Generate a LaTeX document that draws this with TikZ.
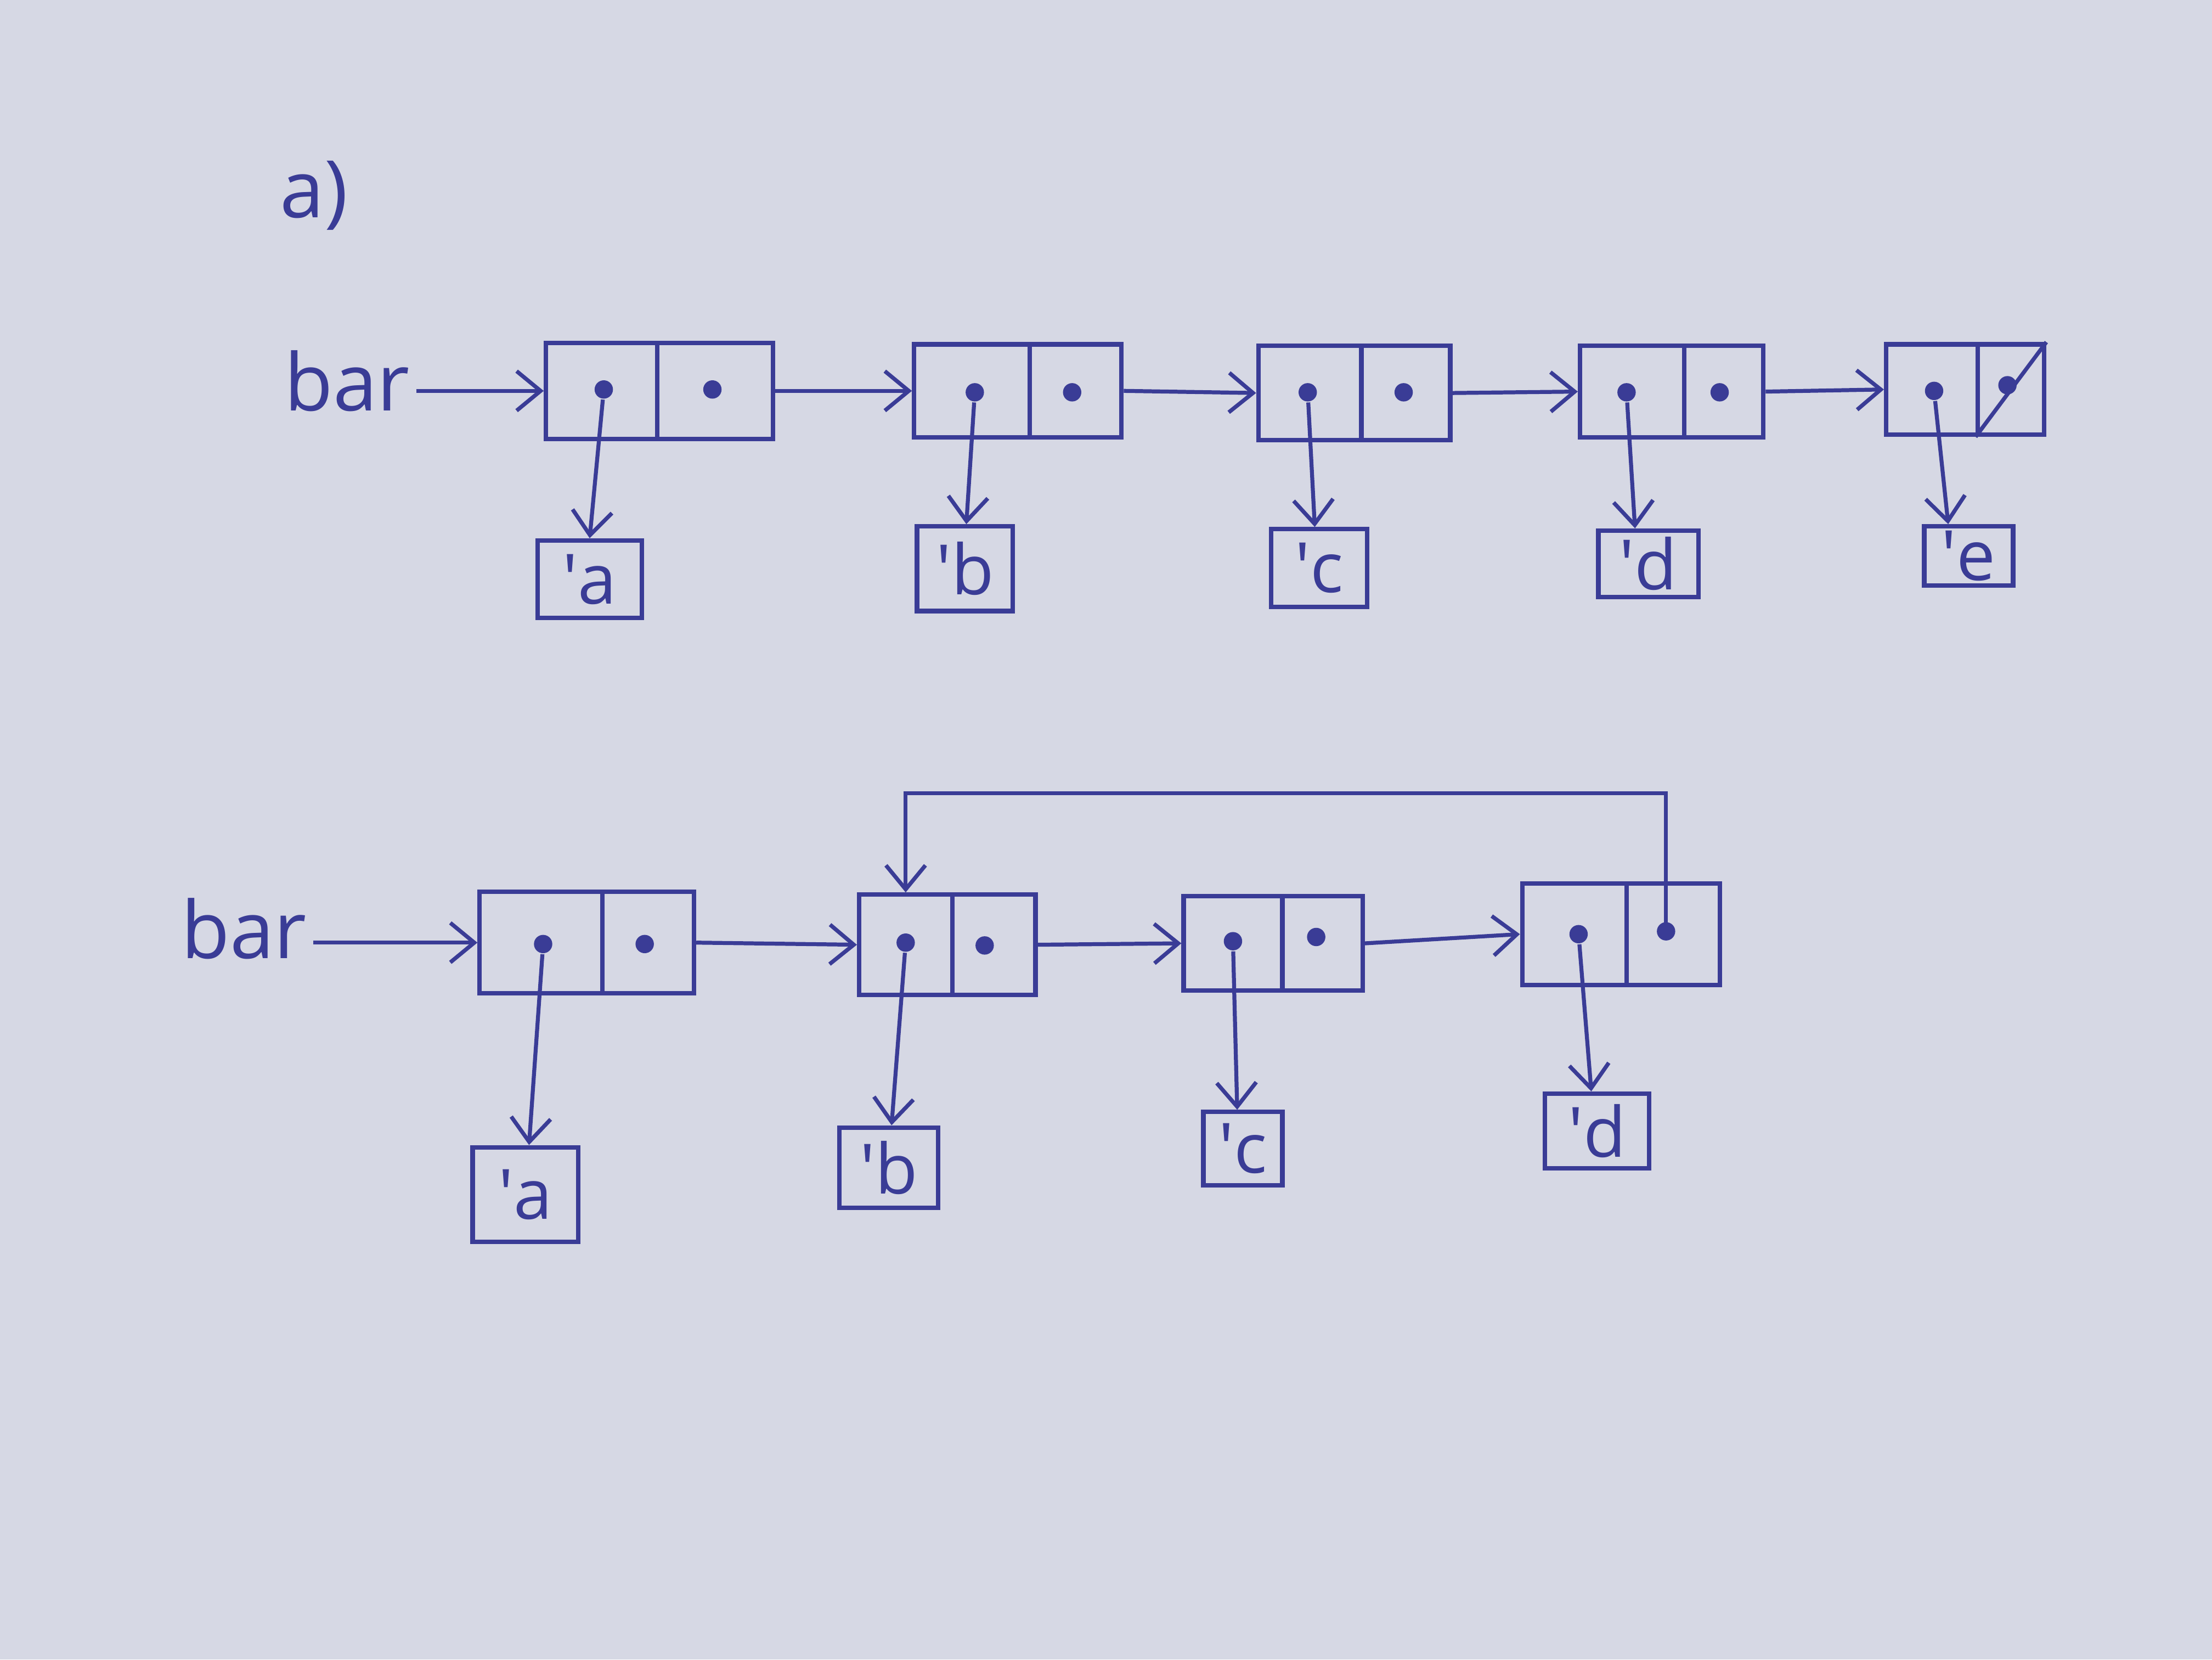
\documentclass[tikz,border=0pt]{standalone}
\usepackage{fontspec}
\setmainfont{Open Sans}
\usetikzlibrary{arrows.meta,calc}
\definecolor{ink}{RGB}{58,60,150}
\definecolor{paper}{RGB}{214,216,228}
\begin{document}
\begin{tikzpicture}[x=0.1mm,y=-0.1mm,
  half/.style={draw=ink, line width=0.9pt, inner sep=0, rectangle},
  atom/.style={draw=ink, line width=0.9pt, inner sep=0, rectangle, text=ink, font=\fontsize{14}{16}\selectfont},
  dotnode/.style={circle, fill=ink, inner sep=0, minimum size=1.3mm},
  arr/.style={draw=ink, line width=0.8pt, -{Straight Barb[length=1.7mm,width=2.8mm]}},
  plain/.style={draw=ink, line width=0.8pt},
  lbl/.style={text=ink, inner sep=0.4mm, font=\fontsize{16}{19}\selectfont}]
\path[use as bounding box, fill=paper] (0,0) rectangle (1568,1176);

% labels
\node[lbl, anchor=base west] (lab) at (194,154) {a)};
\node[lbl, anchor=base] (bar1) at (246,291) {bar};
\node[lbl, anchor=base] (bar2) at (173,679) {bar};

% ---------- top row ----------
\node[half, minimum width=7.9mm, minimum height=6.8mm] (t1a) at (426.5,277) {};
\node[half, minimum width=8.2mm, minimum height=6.8mm] (t1d) at (507,277) {};
\node[half, minimum width=8.2mm, minimum height=6.6mm] (t2a) at (689,277) {};
\node[half, minimum width=6.5mm, minimum height=6.6mm] (t2d) at (762.5,277) {};
\node[half, minimum width=7.3mm, minimum height=6.7mm] (t3a) at (928.5,278.5) {};
\node[half, minimum width=6.3mm, minimum height=6.7mm] (t3d) at (996.5,278.5) {};
\node[half, minimum width=7.4mm, minimum height=6.5mm] (t4a) at (1157,277.5) {};
\node[half, minimum width=5.6mm, minimum height=6.5mm] (t4d) at (1222,277.5) {};
\node[half, minimum width=6.5mm, minimum height=6.4mm] (t5a) at (1369.5,276) {};
\node[half, minimum width=4.7mm, minimum height=6.4mm] (t5d) at (1425.5,276) {};

\node[dotnode] (t1p) at (428,276) {};
\node[dotnode] (t1q) at (505,276) {};
\node[dotnode] (t2p) at (691,278) {};
\node[dotnode] (t2q) at (760,278) {};
\node[dotnode] (t3p) at (927,278) {};
\node[dotnode] (t3q) at (995,278) {};
\node[dotnode] (t4p) at (1153,278) {};
\node[dotnode] (t4q) at (1219,278) {};
\node[dotnode] (t5p) at (1371,277) {};
\node[dotnode] (t5q) at (1423,273) {};

\node[atom, minimum width=7.4mm, minimum height=5.5mm] (ta) at (418,410.5) {\textquotesingle a};
\node[atom, minimum width=6.8mm, minimum height=6.0mm] (tb) at (684,403) {\textquotesingle b};
\node[atom, minimum width=6.8mm, minimum height=5.5mm] (tc) at (935,402.5) {\textquotesingle c};
\node[atom, minimum width=7.1mm, minimum height=4.7mm] (td) at (1168.5,399.5) {\textquotesingle d};
\node[atom, minimum width=6.3mm, minimum height=4.2mm] (te) at (1395.5,394) {\textquotesingle e};

\draw[arr] (bar1.east |- t1a.west) -- (t1a.west);
\draw[arr] (t1d.east) -- (t2a.west);
\draw[arr] (t2d.east) -- (t3a.west);
\draw[arr] (t3d.east) -- (t4a.west);
\draw[arr] (t4d.east) -- (t5a.west);
\draw[arr] (t1p) -- ($(t1p |- ta.north)+(-10,0)$);
\draw[arr] (t2p) -- ($(t2p |- tb.north)+(-6,0)$);
\draw[arr] (t3p) -- ($(t3p |- tc.north)+(5,0)$);
\draw[arr] (t4p) -- ($(t4p |- td.north)+(6,0)$);
\draw[arr] (t5p) -- ($(t5p |- te.north)+(10,0)$);
\draw[plain] (t5d.south west) -- (t5d.north east);

% ---------- bottom row ----------
\node[half, minimum width=8.7mm, minimum height=7.2mm] (b1a) at (383.5,668) {};
\node[half, minimum width=6.5mm, minimum height=7.2mm] (b1d) at (459.5,668) {};
\node[half, minimum width=6.6mm, minimum height=7.1mm] (b2a) at (642,669.5) {};
\node[half, minimum width=5.9mm, minimum height=7.1mm] (b2d) at (704.5,669.5) {};
\node[half, minimum width=7.0mm, minimum height=6.7mm] (b3a) at (874,668.5) {};
\node[half, minimum width=5.7mm, minimum height=6.7mm] (b3d) at (937.5,668.5) {};
\node[half, minimum width=7.4mm, minimum height=7.2mm] (b4a) at (1116,662) {};
\node[half, minimum width=6.6mm, minimum height=7.2mm] (b4d) at (1186,662) {};

\node[dotnode] (b1p) at (385,669) {};
\node[dotnode] (b1q) at (457,669) {};
\node[dotnode] (b2p) at (642,668) {};
\node[dotnode] (b2q) at (698,670) {};
\node[dotnode] (b3p) at (874,667) {};
\node[dotnode] (b3q) at (933,664) {};
\node[dotnode] (b4p) at (1119,662) {};
\node[dotnode] (b4q) at (1181,660) {};

\node[atom, minimum width=7.5mm, minimum height=6.7mm] (ba) at (372.5,846.5) {\textquotesingle a};
\node[atom, minimum width=7.0mm, minimum height=5.7mm] (bb) at (630,827.5) {\textquotesingle b};
\node[atom, minimum width=5.6mm, minimum height=5.2mm] (bc) at (881,814) {\textquotesingle c};
\node[atom, minimum width=7.4mm, minimum height=5.3mm] (bd) at (1132,801.5) {\textquotesingle d};

\coordinate (loopy) at (0,562);
\draw[arr] (bar2.east |- b1a.west) -- (b1a.west);
\draw[arr] (b1d.east) -- (b2a.west);
\draw[arr] (b2d.east) -- (b3a.west);
\draw[arr] (b3d.east) -- (b4a.west);
\draw[arr] (b1p) -- ($(b1p |- ba.north)+(-10,0)$);
\draw[arr] (b2p) -- ($(b2p |- bb.north)+(-10,0)$);
\draw[arr] (b3p) -- ($(b3p |- bc.north)+(3,0)$);
\draw[arr] (b4p) -- ($(b4p |- bd.north)+(9,0)$);
\draw[arr] (b4q.center) -- (b4q.center |- loopy) -| (b2a.north);
\end{tikzpicture}
\end{document}
